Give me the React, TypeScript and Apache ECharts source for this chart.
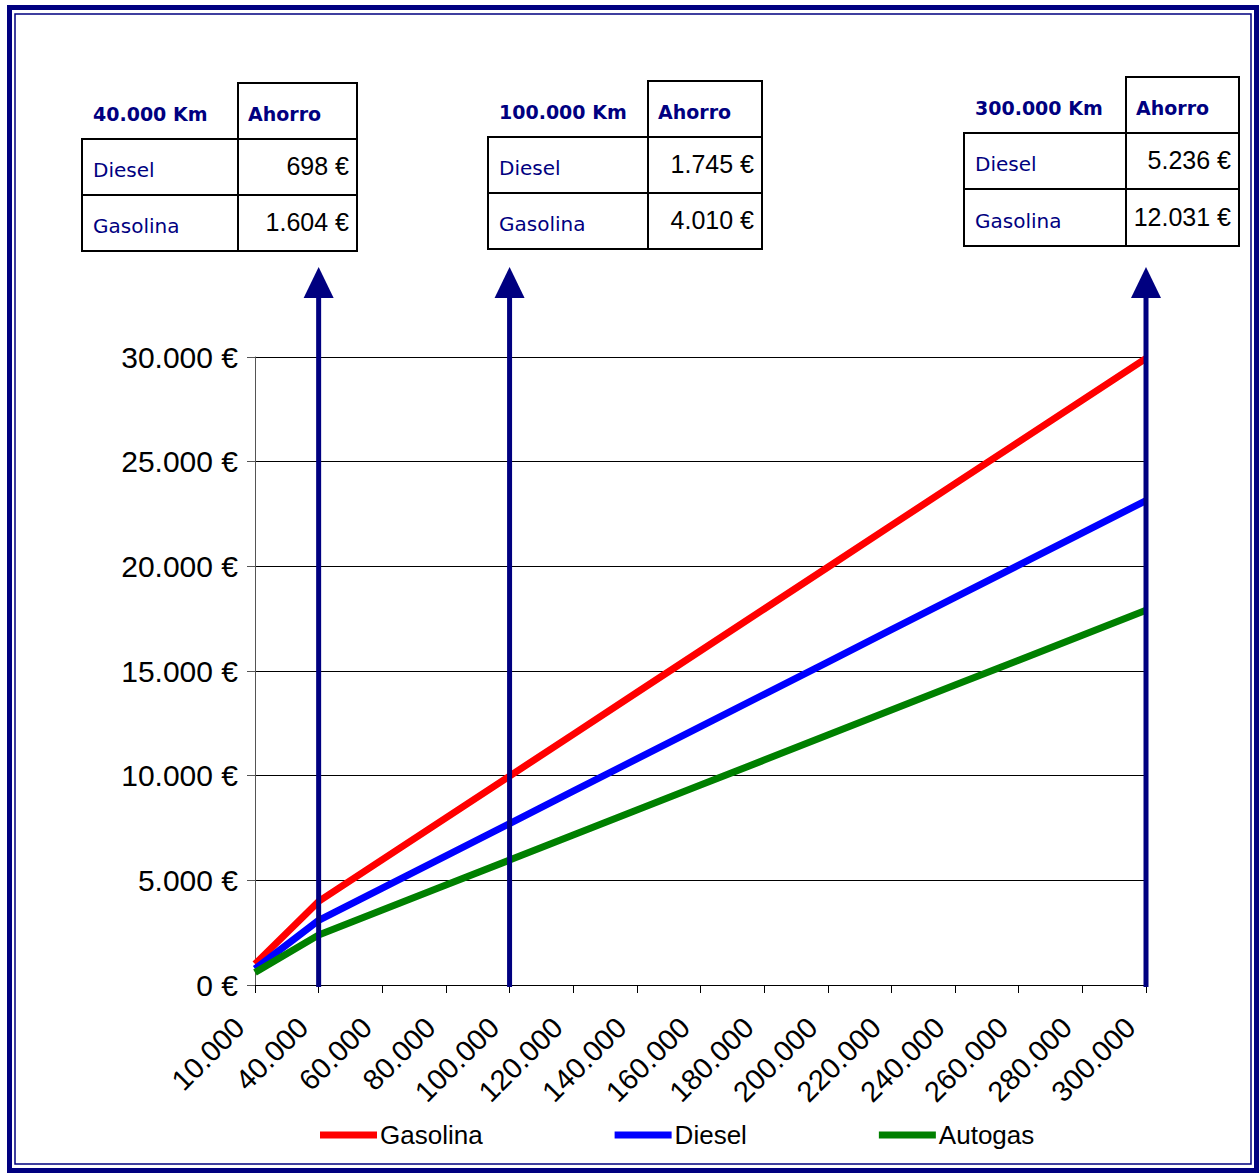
import React, { useEffect, useRef } from "react";
import * as echarts from "echarts";

const categories = [
  "10.000", "40.000", "60.000", "80.000", "100.000", "120.000", "140.000", "160.000",
  "180.000", "200.000", "220.000", "240.000", "260.000", "280.000", "300.000",
];
const gasolina = [998, 3992, 5987, 7983, 9979, 11975, 13971, 15966, 17962, 19958, 21954, 23950, 25945, 27941, 29937];
const diesel = [771, 3086, 4628, 6171, 7714, 9257, 10800, 12342, 13885, 15428, 16971, 18514, 20056, 21599, 23142];
const autogas = [597, 2388, 3581, 4775, 5969, 7163, 8357, 9550, 10744, 11938, 13132, 14326, 15519, 16713, 17907];

const seriesNames = ["Gasolina", "Diesel", "Autogas"];
const seriesColors = ["#ff0000", "#0000ff", "#008000"];

const arrowCategories = ["40.000", "100.000", "300.000"];
const tableTitles = ["40.000 Km", "100.000 Km", "300.000 Km"];
const tableHeader = "Ahorro";
const tableRowLabels = ["Diesel", "Gasolina"];
const tableDieselSaving = ["698 €", "1.745 €", "5.236 €"];
const tableGasolinaSaving = ["1.604 €", "4.010 €", "12.031 €"];

// layout of the three tables (pixels)
const tableLayout = [
  { x0: 82, x1: 238, x2: 357, y0: 83, y1: 139, y2: 195, y3: 251 },
  { x0: 488, x1: 648, x2: 762, y0: 81, y1: 137, y2: 193, y3: 249 },
  { x0: 964, x1: 1126, x2: 1239, y0: 77, y1: 133, y2: 189, y3: 246 },
];

const NAVY = "#000080";
const ARIAL = "'Liberation Sans', Arial, sans-serif";
const VERDANA = "'DejaVu Sans', Verdana, sans-serif";

function fmt(v: number): string {
  return String(v).replace(/\B(?=(\d{3})+(?!\d))/g, ".") + " €";
}

export default function App() {
  const ref = useRef<HTMLDivElement>(null);

  useEffect(() => {
    if (!ref.current) return;
    const chart = echarts.init(ref.current, null, { renderer: "svg" });
    const values = [gasolina, diesel, autogas];
    chart.setOption({
      animation: false,
      backgroundColor: "#ffffff",
      grid: { left: 255, right: 113, top: 357, bottom: 191, containLabel: false },
      legend: {
        data: seriesNames,
        left: 320,
        top: 1122,
        icon: "rect",
        itemWidth: 57,
        itemHeight: 7,
        itemGap: 132,
        padding: 0,
        textStyle: { fontSize: 26, fontFamily: ARIAL, color: "#000", padding: [0, 0, 0, -2] },
      },
      xAxis: {
        type: "category",
        data: categories,
        boundaryGap: false,
        axisLine: { show: true, lineStyle: { color: "#000", width: 1 } },
        axisTick: { show: true, length: 8, lineStyle: { color: "#000" } },
        axisLabel: {
          rotate: 45,
          interval: 0,
          margin: 22,
          padding: [0, 22, 0, 0],
          fontSize: 29,
          fontFamily: ARIAL,
          color: "#000",
        },
        splitLine: { show: false },
      },
      yAxis: {
        type: "value",
        min: 0,
        max: 30000,
        interval: 5000,
        axisLine: { show: true, lineStyle: { color: "#555", width: 1 } },
        axisTick: { show: true, length: 8, lineStyle: { color: "#555" } },
        axisLabel: {
          formatter: (v: number) => fmt(v),
          margin: 17,
          fontSize: 30,
          fontFamily: ARIAL,
          color: "#000",
        },
        splitLine: { show: true, lineStyle: { color: "#000", width: 1 } },
      },
      series: seriesNames.map((name, i) => ({
        name,
        type: "line",
        data: values[i],
        symbol: "none",
        lineStyle: { width: 7, color: seriesColors[i] },
        itemStyle: { color: seriesColors[i] },
        z: 3,
      })),
    });

    const graphics: any[] = [];
    // frame
    graphics.push({
      type: "rect",
      shape: { x: 9.5, y: 7.5, width: 1247, height: 1163 },
      style: { fill: "none", stroke: NAVY, lineWidth: 5 },
      z: 100,
    });
    graphics.push({
      type: "rect",
      shape: { x: 15, y: 14, width: 1236, height: 1150 },
      style: { fill: "none", stroke: NAVY, lineWidth: 1.5 },
      z: 100,
    });

    // arrows
    arrowCategories.forEach((cat) => {
      const p = chart.convertToPixel({ xAxisIndex: 0, yAxisIndex: 0 }, [cat, 0]) as number[];
      const x = p[0];
      graphics.push({
        type: "line",
        shape: { x1: x, y1: p[1] + 2, x2: x, y2: 294 },
        style: { stroke: NAVY, lineWidth: 5 },
        z: 100,
      });
      graphics.push({
        type: "polygon",
        shape: { points: [[x - 15, 298], [x + 15, 298], [x, 267]] },
        style: { fill: NAVY },
        z: 100,
      });
    });

    // tables
    tableLayout.forEach((t, i) => {
      const stroke = { fill: "none", stroke: "#000", lineWidth: 2 };
      graphics.push({ type: "rect", shape: { x: t.x1, y: t.y0, width: t.x2 - t.x1, height: t.y1 - t.y0 }, style: stroke, z: 100 });
      graphics.push({ type: "rect", shape: { x: t.x0, y: t.y1, width: t.x2 - t.x0, height: t.y3 - t.y1 }, style: stroke, z: 100 });
      graphics.push({ type: "line", shape: { x1: t.x0, y1: t.y2, x2: t.x2, y2: t.y2 }, style: { stroke: "#000", lineWidth: 2 }, z: 100 });
      graphics.push({ type: "line", shape: { x1: t.x1, y1: t.y1, x2: t.x1, y2: t.y3 }, style: { stroke: "#000", lineWidth: 2 }, z: 100 });

      const hy = (t.y0 + t.y1) / 2 + 3;
      const r1 = (t.y1 + t.y2) / 2;
      const r2 = (t.y2 + t.y3) / 2;
      const txt = (text: string, x: number, y: number, extra: any) => ({
        type: "text",
        x,
        y,
        z: 101,
        style: { text, verticalAlign: "middle", ...extra },
      });
      const bold = { fill: NAVY, fontSize: 19, fontWeight: "bold", fontFamily: VERDANA, align: "left" };
      const reg = { fill: NAVY, fontSize: 20, fontFamily: VERDANA, align: "left" };
      const val = { fill: "#000", fontSize: 25, fontFamily: ARIAL, align: "right" };
      graphics.push(txt(tableTitles[i], t.x0 + 11, hy, bold));
      graphics.push(txt(tableHeader, t.x1 + 10, hy, bold));
      graphics.push(txt(tableRowLabels[0], t.x0 + 11, r1 + 3, reg));
      graphics.push(txt(tableRowLabels[1], t.x0 + 11, r2 + 3, reg));
      graphics.push(txt(tableDieselSaving[i], t.x2 - 8, r1 - 1, val));
      graphics.push(txt(tableGasolinaSaving[i], t.x2 - 8, r2 - 1, val));
    });

    chart.setOption({ graphic: { elements: graphics } });

    return () => chart.dispose();
  }, []);

  return (
    <div
      ref={ref}
      style={{ position: "fixed", left: 0, top: 0, width: 1259, height: 1176, background: "#fff" }}
    />
  );
}
